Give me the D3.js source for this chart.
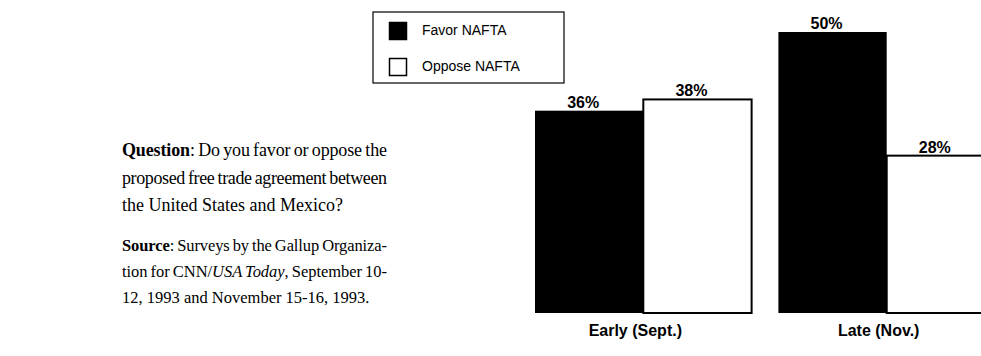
<!DOCTYPE html>
<html>
<head>
<meta charset="utf-8">
<script src="https://cdn.jsdelivr.net/npm/d3@7"></script>
<style>
  body { margin: 0; background: #fff; }
  svg { display: block; }
</style>
</head>
<body>
<svg id="chart" width="981" height="356"></svg>
<script>
// poll data
var periods = ["Early (Sept.)", "Late (Nov.)"];
var series = ["Favor NAFTA", "Oppose NAFTA"];
var favor = [36, 50];
var oppose = [38, 28];

// text beside the chart: [bold lead, plain, italic, plain]
var questionLines = [
    ["Question", ":  Do you favor or oppose the"],
    ["", "proposed free trade agreement between"],
    ["", "the United States and Mexico?"]
];
var sourceLines = [
    ["Source", ":  Surveys by the Gallup Organiza-"],
    ["", "tion for CNN/", "USA Today", ", September 10-"],
    ["", "12, 1993 and November 15-16, 1993."]
];

var svg = d3.select("#chart");

var data = periods.map(function (p, i) {
    return {period: p, values: [favor[i], oppose[i]]};
});

var x0 = d3.scaleBand()
    .domain(periods)
    .range([535, 995])
    .paddingInner(0.11);

var x1 = d3.scaleBand()
    .domain(series)
    .range([0, x0.bandwidth()]);

var y = d3.scaleLinear()
    .domain([0, 50])
    .range([313, 32]);

var groups = svg.selectAll("g.period")
    .data(data)
    .enter()
    .append("g")
    .attr("class", "period")
    .attr("transform", function (d) { return "translate(" + x0(d.period) + ",0)"; });

function bars(d) {
    return d.values.map(function (v, j) { return {s: series[j], v: v}; });
}

groups.selectAll("rect")
    .data(bars)
    .enter()
    .append("rect")
    .attr("x", function (d) { return x1(d.s); })
    .attr("y", function (d) { return y(d.v); })
    .attr("width", x1.bandwidth())
    .attr("height", function (d) { return y(0) - y(d.v); })
    .attr("fill", function (d, j) { return j === 0 ? "#000" : "#fff"; })
    .attr("stroke", "#000")
    .attr("stroke-width", function (d, j) { return j === 0 ? 0 : 2; });

groups.selectAll("text.val")
    .data(bars)
    .enter()
    .append("text")
    .attr("class", "val")
    .attr("x", function (d) { return x1(d.s) + x1.bandwidth() / 2 - 6; })
    .attr("y", function (d) { return y(d.v) - 3; })
    .attr("text-anchor", "middle")
    .style("font-family", "Liberation Sans, Arial, sans-serif")
    .style("font-weight", "bold")
    .style("font-size", "16px")
    .text(function (d) { return d.v + "%"; });

groups.append("text")
    .attr("x", x0.bandwidth() / 2 - 8)
    .attr("y", 336)
    .attr("text-anchor", "middle")
    .style("font-family", "Liberation Sans, Arial, sans-serif")
    .style("font-weight", "bold")
    .style("font-size", "16px")
    .text(function (d) { return d.period; });

// legend
var legend = svg.append("g").attr("transform", "translate(373,12)");
legend.append("rect")
    .attr("width", 191).attr("height", 71)
    .attr("fill", "#fff").attr("stroke", "#000").attr("stroke-width", 1.2);
series.forEach(function (s, i) {
    legend.append("rect")
        .attr("x", 16.5).attr("y", 10.5 + i * 36)
        .attr("width", 17).attr("height", 17)
        .attr("fill", i === 0 ? "#000" : "#fff")
        .attr("stroke", "#000").attr("stroke-width", 1.5);
    legend.append("text")
        .attr("x", 49).attr("y", 23 + i * 36)
        .style("font-family", "Liberation Sans, Arial, sans-serif")
        .style("font-size", "14px")
        .text(s);
});

// question and source text, justified by word spacing
function writeLines(lines, top, step, size, width) {
    lines.forEach(function (parts, i) {
        var t = svg.append("text")
            .attr("x", 122)
            .attr("y", top + i * step)
            .style("font-family", "Liberation Serif, Times New Roman, serif")
            .style("font-size", size + "px");
        parts.forEach(function (p, k) {
            if (!p) return;
            var ts = t.append("tspan").text(p);
            if (k === 0) ts.style("font-weight", "bold");
            if (k === 2 && parts.length > 3) ts.style("font-style", "italic");
        });
        if (i < lines.length - 1) {
            var natural = t.node().getComputedTextLength();
            var gaps = parts.join("").split(" ").length - 1;
            var ws = Math.max(-1, (width - natural) / gaps);
            t.style("word-spacing", ws + "px");
            if (t.node().getComputedTextLength() > width + 1) {
                t.attr("textLength", width).attr("lengthAdjust", "spacing");
            }
        }
    });
}
writeLines(questionLines, 156, 27.5, 18, 265);
writeLines(sourceLines, 251, 26, 16.5, 265);
</script>
</body>
</html>
